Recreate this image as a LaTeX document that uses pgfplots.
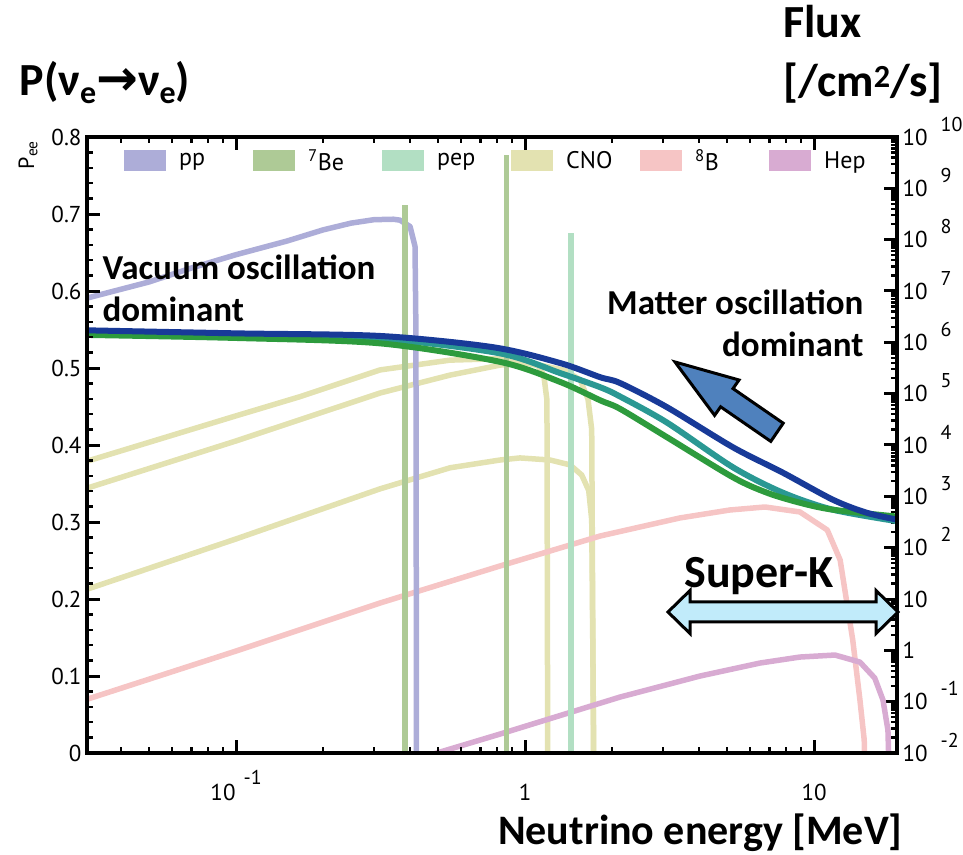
\documentclass[border=0pt]{standalone}
\usepackage{fontspec}
\setmainfont{PT Sans}
\newfontfamily\carlito{Carlito}
\newfontfamily\dejavu{DejaVu Sans}
\usepackage{pgfplots}
\pgfplotsset{compat=1.18}

\definecolor{ppcol}{HTML}{ADADD8}
\definecolor{becol}{HTML}{AECA96}
\definecolor{pepcol}{HTML}{B2DFC3}
\definecolor{cnocol}{HTML}{E3E2B1}
\definecolor{bcol}{HTML}{F6C5C5}
\definecolor{hepcol}{HTML}{D8ABD2}
\definecolor{peeblue}{HTML}{183A98}
\definecolor{peeteal}{HTML}{2A9893}
\definecolor{peegreen}{HTML}{2D9B3D}
\definecolor{arrowblue}{HTML}{4F81BD}
\definecolor{skblue}{HTML}{C1EBFA}

% tick labels with a raised exponent placed to the right
\newcommand{\pw}[1]{10\rlap{\hspace{13pt}\smash{\raisebox{14pt}{\fontsize{20}{20}\selectfont #1}}}}
\newcommand{\xpw}[1]{10\hspace{8pt}\smash{\raisebox{16pt}{\fontsize{20}{20}\selectfont #1}}}
\newcommand{\bigb}[1]{\carlito\bfseries\fontsize{#1}{#1}\selectfont}

% legend entries are drawn as filled swatches
\pgfplotsset{legend image code/.code={\fill[#1] (0pt,-10.5pt) rectangle (42pt,10.5pt);}}

\begin{document}
\begin{tikzpicture}
\path[use as bounding box] (0,0) rectangle (963pt,854pt);

% ---------- solar neutrino fluxes (right axis) ----------
\begin{axis}[
  at={(87pt,101pt)}, anchor=south west,
  width=810pt, height=616pt, scale only axis,
  xmode=log, xmin=0.0305, xmax=19.35,
  tick align=inside,
  major tick length=13pt, minor tick length=6pt,
  axis line style={line width=4pt},
  tick style={line width=3pt, black},
  minor tick style={line width=2.5pt, black},
  ticklabel style={font=\fontsize{23}{23}\selectfont},
  ymode=log, ymin=1e-2, ymax=1e10,
  hide x axis, axis y line*=right,
  ytick={1e-2,1e-1,1,10,1e2,1e3,1e4,1e5,1e6,1e7,1e8,1e9,1e10},
  yticklabels={\pw{-2},\pw{-1},1,10,\pw{2},\pw{3},\pw{4},\pw{5},\pw{6},\pw{7},\pw{8},\pw{9},\pw{10}},
  minor ytick={2e-2,3e-2,4e-2,5e-2,6e-2,7e-2,8e-2,9e-2,
    2e-1,3e-1,4e-1,5e-1,6e-1,7e-1,8e-1,9e-1,
    2,3,4,5,6,7,8,9,20,30,40,50,60,70,80,90,
    2e2,3e2,4e2,5e2,6e2,7e2,8e2,9e2,2e3,3e3,4e3,5e3,6e3,7e3,8e3,9e3,
    2e4,3e4,4e4,5e4,6e4,7e4,8e4,9e4,2e5,3e5,4e5,5e5,6e5,7e5,8e5,9e5,
    2e6,3e6,4e6,5e6,6e6,7e6,8e6,9e6,2e7,3e7,4e7,5e7,6e7,7e7,8e7,9e7,
    2e8,3e8,4e8,5e8,6e8,7e8,8e8,9e8,2e9,3e9,4e9,5e9,6e9,7e9,8e9,9e9},
  yticklabel style={anchor=west, xshift=2pt},
  legend columns=6,
  legend cell align=left,
  legend style={at={(0.0457,1)}, anchor=north west, yshift=-12pt,
    draw=none, fill=none, inner sep=0pt,
    font=\fontsize{24}{24}\selectfont,
    nodes={inner sep=0pt},
    /tikz/every odd column/.style={column sep=13pt},
    /tikz/every even column/.style={column sep=0pt}},
]
\addlegendimage{fill=ppcol, draw=none}\addlegendentry{\makebox[74pt][l]{pp}}
\addlegendimage{fill=becol, draw=none}\addlegendentry{\makebox[74pt][l]{\textsuperscript{7}Be}}
\addlegendimage{fill=pepcol, draw=none}\addlegendentry{\makebox[74pt][l]{pep}}
\addlegendimage{fill=cnocol, draw=none}\addlegendentry{\makebox[74pt][l]{CNO}}
\addlegendimage{fill=bcol, draw=none}\addlegendentry{\makebox[74pt][l]{\textsuperscript{8}B}}
\addlegendimage{fill=hepcol, draw=none}\addlegendentry{\makebox[74pt][l]{Hep}}

% CNO: 15O, 13N, 17F
\addplot[forget plot, cnocol, line width=5.5pt, line join=round] coordinates {
 (0.03,4.7e3)(0.1,3.7e4)(0.166,8.7e4)(0.315,2.9e5)(0.55,4.5e5)(0.819,4.8e5)
 (1.125,3.6e5)(1.37,2.85e5)(1.55,1.86e5)(1.65,7.9e4)(1.70,2e4)(1.732,1e-4)};
\addplot[forget plot, cnocol, line width=5.5pt, line join=round] coordinates {
 (0.03,1.4e3)(0.1,1.2e4)(0.166,3.1e4)(0.315,1.03e5)(0.55,2.3e5)(0.819,3.6e5)
 (1.0,4.0e5)(1.108,3.5e5)(1.16,2.3e5)(1.19,7.5e4)(1.199,1e-4)};
\addplot[forget plot, cnocol, line width=5.5pt, line join=round] coordinates {
 (0.03,15)(0.1,148)(0.315,1.4e3)(0.55,3.6e3)(0.819,5.1e3)(0.96,5.6e3)
 (1.22,5.1e3)(1.43,4.1e3)(1.57,2.6e3)(1.66,1.3e3)(1.70,3.5e2)(1.74,1e-4)};
% 8B
\addplot[forget plot, bcol, line width=5.5pt, line join=round] coordinates {
 (0.03,0.108)(0.1,0.97)(0.315,8.36)(0.819,44)(1.82,169)(3.43,379)(5.11,542)
 (6.76,620)(8.93,496)(11.1,221)(12.3,57.5)(13.6,1.58)(14.4,0.108)(14.9,0.018)(15.2,1e-4)};
% hep
\addplot[forget plot, hepcol, line width=5.5pt, line join=round] coordinates {
 (0.3,0.0042)(0.495,0.01)(0.819,0.0234)(2.13,0.123)(4.03,0.316)(6.5,0.566)
 (8.93,0.74)(11.8,0.81)(14.4,0.59)(16.2,0.289)(17.3,0.108)(18.0,0.028)(18.5,1e-4)};
% pp
\addplot[forget plot, ppcol, line width=5.5pt, line join=round] coordinates {
 (0.03,7.1e6)(0.05,1.5e7)(0.07,2.8e7)(0.1,5.1e7)(0.15,9.4e7)(0.2,1.55e8)
 (0.25,2.1e8)(0.3,2.45e8)(0.35,2.5e8)(0.369,2.4e8)(0.40,1.8e8)(0.416,7.4e7)
 (0.419,1.8e6)(0.42,316)(0.421,1e-4)};
% 7Be lines
\addplot[forget plot, becol, line width=5.5pt] coordinates {(0.384,1e-4)(0.384,4.8e8)};
\addplot[forget plot, becol, line width=5.5pt] coordinates {(0.862,1e-4)(0.862,4.5e9)};
% pep line
\addplot[forget plot, pepcol, line width=5.5pt] coordinates {(1.442,1e-4)(1.442,1.35e8)};
\end{axis}

% ---------- survival probability (left axis) ----------
\begin{axis}[
  at={(87pt,101pt)}, anchor=south west,
  width=810pt, height=616pt, scale only axis,
  xmode=log, xmin=0.0305, xmax=19.35,
  tick align=inside,
  major tick length=13pt, minor tick length=6pt,
  axis line style={line width=4pt},
  tick style={line width=3pt, black},
  minor tick style={line width=2.5pt, black},
  ticklabel style={font=\fontsize{23}{23}\selectfont},
  ymin=0, ymax=0.8, axis on top,
  ytick={0,0.1,0.2,0.3,0.4,0.5,0.6,0.7,0.8},
  yticklabels={0,0.1,0.2,0.3,0.4,0.5,0.6,0.7,0.8},
  minor y tick num=4, ytick pos=left,
  xtick={0.1,1,10}, xticklabels={\xpw{-1},1,10},
  minor xtick={0.04,0.05,0.06,0.07,0.08,0.09,0.2,0.3,0.4,0.5,0.6,0.7,0.8,0.9,2,3,4,5,6,7,8,9},
  xtick pos=both, xticklabel pos=lower,
  xticklabel style={yshift=-28pt},
  yticklabel style={xshift=-2pt},
]
\addplot[peeteal, line width=6pt, smooth] coordinates {
 (0.03,0.546)(0.1,0.542)(0.315,0.538)(0.819,0.519)(1.32,0.4935)(1.82,0.475)
 (2.13,0.463)(3.10,0.429)(5.24,0.371)(7.80,0.338)(11.6,0.316)(19.4,0.301)};
\addplot[peegreen, line width=6pt, smooth] coordinates {
 (0.03,0.543)(0.1,0.539)(0.315,0.532)(0.819,0.508)(1.32,0.482)(1.82,0.458)
 (2.13,0.447)(3.10,0.410)(5.24,0.358)(6.87,0.338)(8.93,0.325)(11.6,0.316)(19.4,0.307)};
\addplot[peeblue, line width=6pt, smooth] coordinates {
 (0.03,0.549)(0.1,0.545)(0.315,0.5416)(0.775,0.527)(1.32,0.5065)(1.82,0.488)
 (2.13,0.4805)(3.10,0.449)(5.24,0.397)(7.80,0.364)(11.6,0.329)(15.2,0.312)(19.4,0.303)};
\end{axis}

% ---------- titles and annotations ----------
\node[anchor=base west, font=\bigb{46}] at (16pt,758pt)
  {P(ν\raisebox{-8pt}{\fontsize{32}{32}\selectfont e}{\dejavu\bfseries\fontsize{50}{50}\selectfont →}ν\raisebox{-8pt}{\fontsize{32}{32}\selectfont e})};
\node[anchor=center, rotate=90, font=\fontsize{22}{22}\selectfont] at (28pt,699pt) {P\textsubscript{ee}};
\node[anchor=base west, font=\bigb{46}] at (780pt,816pt) {Flux};
\node[anchor=base west, font=\bigb{46}] at (780pt,757pt) {[/cm\textsuperscript{2}/s]};
\node[anchor=base east, font=\bigb{42}] at (906pt,10pt) {Neutrino energy [MeV]};

\node[anchor=base west, font=\bigb{35}] at (99pt,574pt) {Vacuum oscillation};
\node[anchor=base west, font=\bigb{35}] at (99pt,532pt) {dominant};
\node[anchor=base east, font=\bigb{35}] at (867pt,539pt) {Matter oscillation};
\node[anchor=base east, font=\bigb{35}] at (867pt,497pt) {dominant};

\begin{scope}[x=1pt, y=1pt]
% block arrow pointing towards the matter-dominated region
\draw[line width=3pt, line join=miter, fill=arrowblue]
  (675,492) -- (739.0,474.0) -- (733.0,465.4) -- (783.2,430.8)
  -- (770.8,412.6) -- (720.6,447.2) -- (714.6,438.6) -- cycle;
% Super-K energy range
\draw[line width=3pt, line join=miter, fill=skblue]
  (668,242) -- (690,263.5) -- (690,252) -- (876,252) -- (876,263.5)
  -- (898,242) -- (876,220.5) -- (876,232) -- (690,232) -- (690,220.5) -- cycle;
\end{scope}
\node[anchor=base, font=\bigb{46}] at (759pt,266pt) {Super-K};
\end{tikzpicture}
\end{document}
